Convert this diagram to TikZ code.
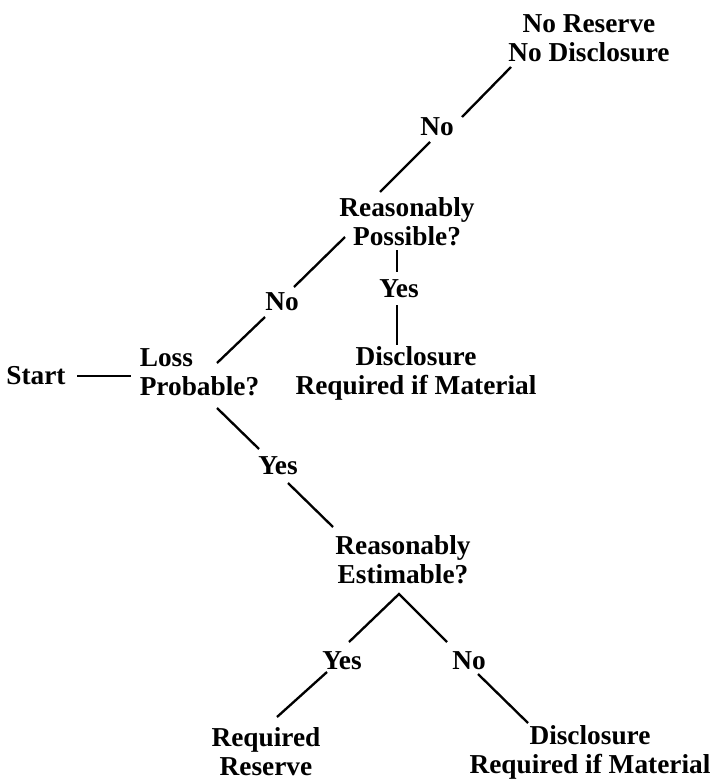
\documentclass[tikz,border=0pt]{standalone}
\usepackage{fontspec}
\setmainfont{Liberation Serif}
\begin{document}
\begin{tikzpicture}[x=0.75pt,y=-0.75pt,
  lbl/.style={inner sep=0pt,font=\fontsize{20.5}{21.8}\selectfont\bfseries,align=center},
  conn/.style={line width=1.75pt}]
\useasboundingbox (0,0) rectangle (711,782);
% nodes
\node[lbl] (start) at (36,376) {Start};
\node[lbl,align=left] (loss) at (199.5,372.5) {Loss\\Probable?};
\node[lbl] (no1) at (282,302) {No};
\node[lbl] (rp) at (407,222) {Reasonably\\Possible?};
\node[lbl] (no2) at (437,127) {No};
\node[lbl] (nrnd) at (589,38.5) {No Reserve\\No Disclosure};
\node[lbl] (yes1) at (399,289) {Yes};
\node[lbl] (dr1) at (416,373) {Disclosure\\Required if Material};
\node[lbl] (yes2) at (278,466) {Yes};
\node[lbl] (re) at (403,560) {Reasonably\\Estimable?};
\node[lbl] (yes3) at (342,661) {Yes};
\node[lbl] (no3) at (469,661) {No};
\node[lbl] (rr) at (266,752) {Required\\Reserve};
\node[lbl] (dr2) at (590,752) {Disclosure\\Required if Material};
% connectors
\draw[conn] ([shift={(41,0)}]start.center) -- ([shift={(-68.5,3.5)}]loss.center);
\draw[conn] ([shift={(17.5,-9.5)}]loss.center) -- ([shift={(-17,15)}]no1.center);
\draw[conn] ([shift={(12,-15)}]no1.center) -- ([shift={(-62,15)}]rp.center);
\draw[conn] ([shift={(-27,-30)}]rp.center) -- ([shift={(-7,15)}]no2.center);
\draw[conn] ([shift={(25,-10)}]no2.center) -- ([shift={(-78,28.5)}]nrnd.center);
\draw[conn] ([shift={(-10,28)}]rp.center) -- ([shift={(-2,-17)}]yes1.center);
\draw[conn] ([shift={(-2,16)}]yes1.center) -- ([shift={(-19,-28)}]dr1.center);
\draw[conn] ([shift={(17.5,35.5)}]loss.center) -- ([shift={(-19,-17)}]yes2.center);
\draw[conn] ([shift={(10,17)}]yes2.center) -- ([shift={(-70,-33)}]re.center);
\draw[conn] ([shift={(7,-19)}]yes3.center) -- ([shift={(-4,34)}]re.center) -- ([shift={(-22,-19)}]no3.center);
\draw[conn] ([shift={(-15,11)}]yes3.center) -- ([shift={(11,-35)}]rr.center);
\draw[conn] ([shift={(9,13)}]no3.center) -- ([shift={(-62,-29)}]dr2.center);
\end{tikzpicture}
\end{document}
